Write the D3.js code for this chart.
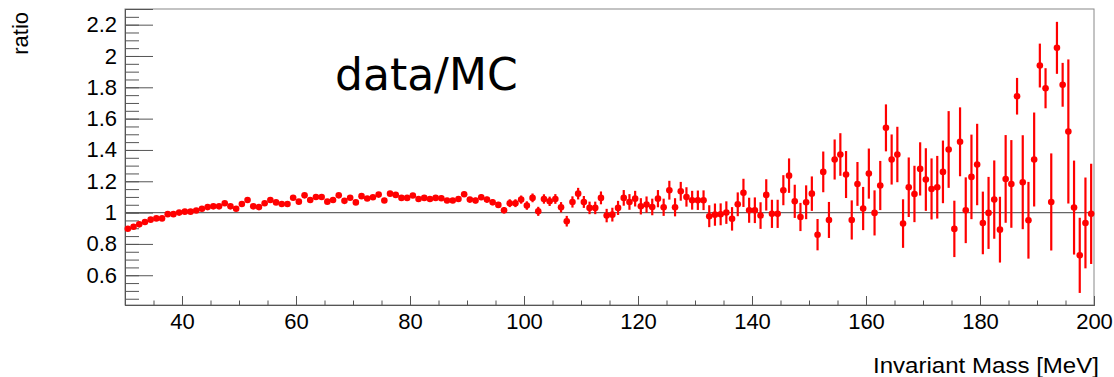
<!DOCTYPE html>
<html><head><meta charset="utf-8">
<script src="https://cdn.jsdelivr.net/npm/d3@7"></script>
<style>
body{margin:0;background:#fff}
svg text{font-family:"Liberation Sans",Arial,Helvetica,sans-serif;fill:#000}
</style>
</head><body>
<svg id="chart" width="1114" height="377"></svg>
<script>
// bin centres (1 MeV bins from 30 to 200 MeV)
const massBins = d3.range(30.5, 200, 1);

const ratioValues = [
  // 30.5 - 72.5
  0.897, 0.91, 0.925, 0.94, 0.955, 0.963, 0.963, 0.99, 0.99, 1.0,
  1.006, 1.006, 1.013, 1.025, 1.035, 1.04, 1.04, 1.06, 1.04, 1.025,
  1.055, 1.08, 1.04, 1.035, 1.06, 1.08, 1.065, 1.055, 1.055, 1.095,
  1.07, 1.11, 1.08, 1.10, 1.10, 1.07, 1.08, 1.11, 1.075, 1.095,
  1.065, 1.105, 1.09,
  // 73.5 - 116.5
  1.098, 1.115, 1.077, 1.121, 1.113, 1.094, 1.094, 1.109, 1.087, 1.094,
  1.087, 1.094, 1.092, 1.077, 1.077, 1.087, 1.117, 1.083, 1.077, 1.098,
  1.083, 1.066, 1.049, 1.015, 1.06, 1.06, 1.083, 1.045, 1.094, 1.008,
  1.087, 1.072, 1.087, 1.034, 0.945, 1.068, 1.121, 1.068, 1.03, 1.03,
  1.094, 0.981, 0.987, 1.03,
  // 117.5 - 159.5
  1.094, 1.068, 1.089, 1.04, 1.051, 1.036, 1.089, 1.034, 1.143, 1.034,
  1.136, 1.10, 1.079, 1.079, 1.079, 0.977, 0.987, 0.989, 1.0, 0.96,
  1.053, 1.126, 1.015, 1.015, 0.981, 1.113, 0.992, 0.992, 1.143, 1.236,
  1.072, 0.972, 1.066, 1.121, 0.859, 1.26, 0.953, 1.339, 1.371, 1.243,
  0.953, 1.183, 1.026,
  // 160.5 - 199.5
  1.249, 0.998, 1.173, 1.541, 1.339, 1.371, 0.93, 1.162, 1.119, 1.279,
  1.211, 1.151, 1.162, 1.26, 1.403, 0.896, 1.452, 1.015, 1.228, 1.307,
  0.934, 0.998, 1.083, 0.891, 1.215, 1.183, 1.743, 1.194, 0.951, 1.339,
  1.939, 1.794, 1.068, 2.052, 1.816, 1.518, 1.032, 0.727, 0.934, 0.992
];

const ratioErrors = [
  0.006, 0.006, 0.006, 0.006, 0.006, 0.006, 0.006, 0.006, 0.006, 0.006,
  0.006, 0.006, 0.007, 0.007, 0.007, 0.007, 0.007, 0.007, 0.008, 0.008,
  0.008, 0.008, 0.008, 0.008, 0.008, 0.008, 0.008, 0.008, 0.008, 0.008,
  0.01, 0.01, 0.01, 0.01, 0.01, 0.01, 0.01, 0.01, 0.01, 0.01,
  0.01, 0.01, 0.01,
  0.013, 0.013, 0.013, 0.014, 0.014, 0.014, 0.014, 0.015, 0.015, 0.015,
  0.015, 0.016, 0.016, 0.016, 0.016, 0.017, 0.017, 0.017, 0.018, 0.018,
  0.018, 0.019, 0.019, 0.02,
  0.025, 0.025, 0.026, 0.027, 0.028, 0.029, 0.03, 0.03, 0.031,
  0.033, 0.034, 0.036, 0.037, 0.038, 0.04, 0.04, 0.041, 0.043, 0.044, 0.045,
  0.05, 0.05, 0.05, 0.052, 0.052, 0.053, 0.055, 0.055,
  0.06, 0.058, 0.06, 0.062, 0.06, 0.062, 0.063,
  0.07, 0.071, 0.07, 0.072, 0.075, 0.076,
  0.09, 0.08, 0.082, 0.085, 0.1, 0.09, 0.09, 0.096,
  0.11, 0.106, 0.09, 0.108, 0.11,
  0.10, 0.13, 0.115, 0.128, 0.136, 0.15, 0.125, 0.14, 0.138,
  0.16, 0.144, 0.157, 0.15, 0.16, 0.177, 0.155, 0.19, 0.18, 0.17,
  0.20, 0.195, 0.20, 0.20, 0.245, 0.18, 0.22, 0.21, 0.27, 0.26,
  0.20, 0.23, 0.25, 0.21, 0.28, 0.28, 0.117, 0.30, 0.245, 0.30,
  0.14, 0.128, 0.31, 0.166, 0.14, 0.46, 0.30, 0.24, 0.29, 0.32
];

const xMajorTicks = [40, 60, 80, 100, 120, 140, 160, 180, 200];
const xTickLabels = ["40", "60", "80", "100", "120", "140", "160", "180", "200"];
const xMinorTicks = d3.range(35, 201, 5);
const yMajorTicks = [0.6, 0.8, 1, 1.2, 1.4, 1.6, 1.8, 2, 2.2];
const yTickLabels = ["0.6", "0.8", "1", "1.2", "1.4", "1.6", "1.8", "2", "2.2"];
const yMinorTicks = d3.range(0.45, 2.3, 0.05);

const xTitle = "Invariant Mass [MeV]";
const yTitle = "ratio";
const plotLabel = "data/MC";

const svg = d3.select("#chart");
const x = d3.scaleLinear().domain([30, 200]).range([125, 1094]);
const y = d3.scaleLinear().domain([0.41, 2.30]).range([305, 9]);
const axisColor = "#555";

// frame
svg.append("rect").attr("x", 125).attr("y", 9).attr("width", 1094 - 125).attr("height", 305 - 9)
  .attr("fill", "none").attr("stroke", "#888").attr("stroke-width", 1);

// reference line at 1
svg.append("line").attr("x1", x(30)).attr("x2", x(200)).attr("y1", y(1)).attr("y2", y(1))
  .attr("stroke", "#666").attr("stroke-width", 1.3);

// axes
const gy = svg.append("g").attr("transform", "translate(125,0)")
  .call(d3.axisLeft(y).tickValues(yMajorTicks).tickFormat((d, i) => yTickLabels[i]).tickSize(-28).tickPadding(8));
const gyMinor = svg.append("g").attr("transform", "translate(125,0)")
  .call(d3.axisLeft(y).tickValues(yMinorTicks).tickFormat("").tickSize(-14));
const gx = svg.append("g").attr("transform", "translate(0,305)")
  .call(d3.axisBottom(x).tickValues(xMajorTicks).tickFormat((d, i) => xTickLabels[i]).tickSize(-9).tickPadding(8));
const gxMinor = svg.append("g").attr("transform", "translate(0,305)")
  .call(d3.axisBottom(x).tickValues(xMinorTicks).tickFormat("").tickSize(-4.5));

[gy, gyMinor, gx, gxMinor].forEach(g => {
  g.select(".domain").attr("stroke", axisColor);
  g.selectAll(".tick line").attr("stroke", axisColor);
  g.selectAll(".tick text").attr("font-size", 22).attr("font-family", "Liberation Sans, Arial, sans-serif").attr("fill", "#000");
});

// data
const pts = massBins.map((m, i) => ({m, v: ratioValues[i], e: ratioErrors[i]}));
const gData = svg.append("g");
gData.selectAll("line.err").data(pts).join("line").attr("class", "err")
  .attr("x1", d => x(d.m)).attr("x2", d => x(d.m))
  .attr("y1", d => y(d.v - d.e)).attr("y2", d => y(d.v + d.e))
  .attr("stroke", "#f00").attr("stroke-width", 2.2);
gData.selectAll("circle").data(pts).join("circle")
  .attr("cx", d => x(d.m)).attr("cy", d => y(d.v)).attr("r", 3.3).attr("fill", "#f00");

// titles
svg.append("text").attr("x", 1099).attr("y", 373).attr("text-anchor", "end")
  .attr("font-size", 22).attr("textLength", 226).attr("lengthAdjust", "spacingAndGlyphs").text(xTitle);
svg.append("text").attr("transform", "translate(28,12) rotate(-90)").attr("text-anchor", "end")
  .attr("font-size", 22).text(yTitle);
svg.append("text").attr("x", 335).attr("y", 90).attr("font-size", 44)
  .style("font-family", "'DejaVu Sans', sans-serif").text(plotLabel);
</script>
</body></html>
